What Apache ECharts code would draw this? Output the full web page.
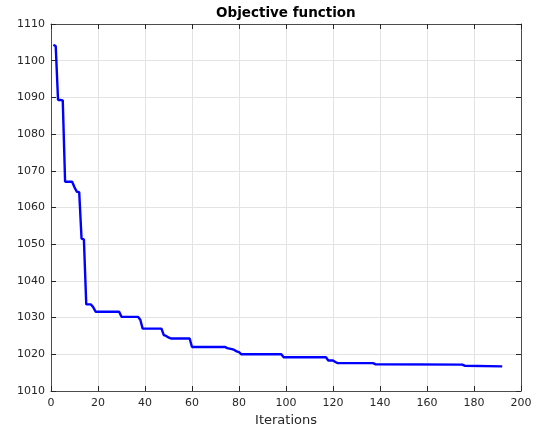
<!DOCTYPE html>
<html><head><meta charset="utf-8">
<script src="https://cdn.jsdelivr.net/npm/echarts@6/dist/echarts.min.js"></script>
<style>html,body{margin:0;padding:0;background:#fff}#c{width:542px;height:432px}</style>
</head><body><div id="c"></div>
<script>
const iterations = [1,2,3,4,5,6,9,10,11,12,13,14,15,17,18,19,29,30,37,38,39,47,48,49,50,51,59,60,74,75,77,78,79,80,81,98,99,117,118,120,121,122,137,138,175,176,192];
const objective = [1104.3,1104.0,1089.3,1089.3,1089.2,1067.0,1067.0,1065.5,1064.3,1064.2,1051.5,1051.3,1033.6,1033.6,1032.8,1031.6,1031.6,1030.2,1030.2,1029.4,1027.0,1027.0,1025.2,1025.0,1024.6,1024.3,1024.3,1022.0,1022.0,1021.7,1021.4,1021.2,1020.8,1020.6,1020.0,1020.0,1019.2,1019.2,1018.3,1018.3,1017.9,1017.6,1017.6,1017.3,1017.2,1016.9,1016.7];
const titleText = 'Objective function';
const xLabel = 'Iterations';

const data = iterations.map((x, i) => [x, objective[i]]);
const font = 'DejaVu Sans';
const axisCol = '#262626';
const chart = echarts.init(document.getElementById('c'), null, {renderer: 'canvas'});
const common = {
  axisLine: {show: true, onZero: false, lineStyle: {color: '#4d4d4d', width: 1}},
  axisTick: {show: true, inside: true, length: 5, lineStyle: {color: axisCol}},
};
chart.setOption({
  animation: false,
  backgroundColor: '#fff',
  title: {text: titleText, left: 216, top: 6, padding: 0,
    textStyle: {fontFamily: font, fontSize: 13.5, fontWeight: 'bold', color: '#000'}},
  grid: {left: 51, right: 21, top: 24, bottom: 40, containLabel: false},
  xAxis: [
    Object.assign({type: 'value', min: 0, max: 200, interval: 20, position: 'bottom',
      name: xLabel, nameLocation: 'middle', nameGap: 23,
      nameTextStyle: {fontFamily: font, fontSize: 13, color: axisCol},
      axisLabel: {fontFamily: font, fontSize: 11, color: axisCol, margin: 7, formatter: v => String(v)},
      splitLine: {show: true, lineStyle: {color: '#e3e3e3', width: 1}}}, common),
    Object.assign({type: 'value', min: 0, max: 200, interval: 20, position: 'top',
      axisLabel: {show: false}, splitLine: {show: false}}, common)
  ],
  yAxis: [
    Object.assign({type: 'value', min: 1010, max: 1110, interval: 10, position: 'left',
      axisLabel: {fontFamily: font, fontSize: 11, color: axisCol, margin: 6, formatter: v => String(v)},
      splitLine: {show: true, lineStyle: {color: '#e3e3e3', width: 1}}}, common),
    Object.assign({type: 'value', min: 1010, max: 1110, interval: 10, position: 'right',
      axisLabel: {show: false}, splitLine: {show: false}}, common)
  ],
  series: [{
    type: 'line', data: data, showSymbol: false, symbol: 'none',
    lineStyle: {color: '#0000ff', width: 2.4}, z: 3
  }]
});
</script></body></html>
